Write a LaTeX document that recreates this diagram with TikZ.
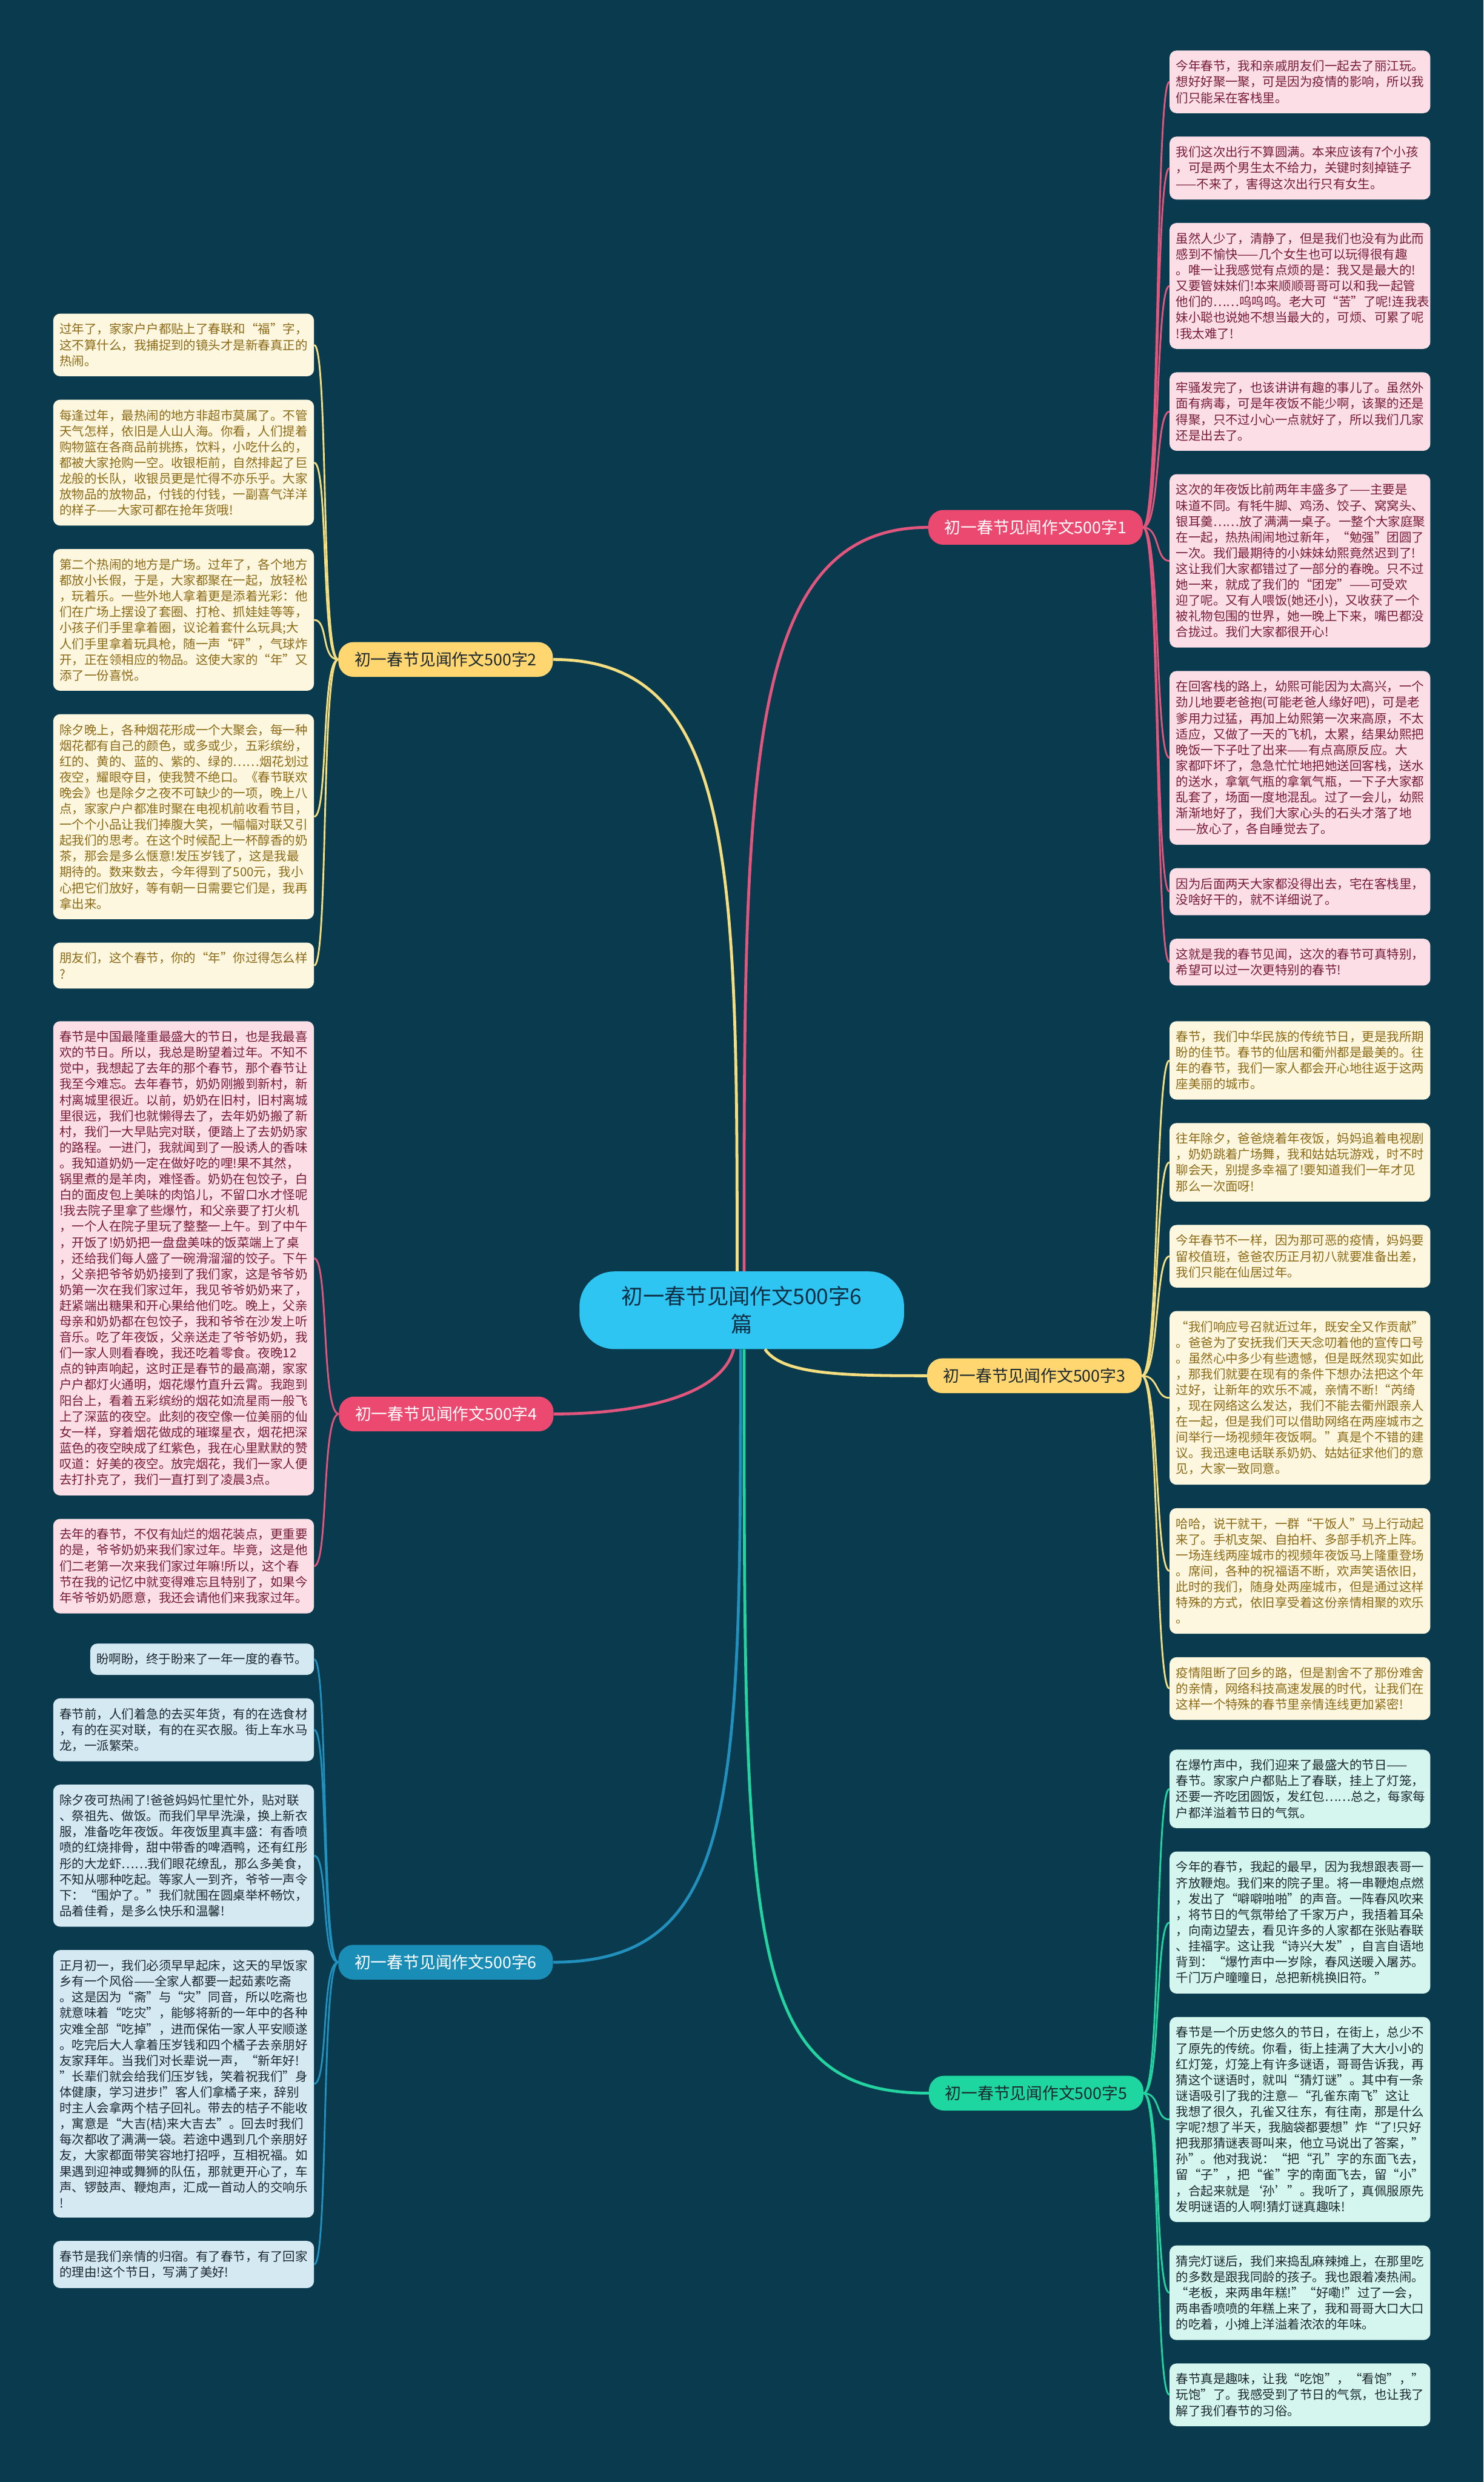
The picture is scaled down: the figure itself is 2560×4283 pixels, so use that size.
\documentclass[tikz,border=0pt]{standalone}
\usepackage{fontspec}
\setmainfont{Noto Sans CJK SC}
\usetikzlibrary{positioning}

\definecolor{bgnavy}{RGB}{9,58,77}
\definecolor{centerfill}{RGB}{46,197,243}
\definecolor{centertext}{RGB}{16,46,68}
\definecolor{pinkbranch}{RGB}{236,73,112}
\definecolor{pinkline}{RGB}{226,86,126}
\definecolor{pinkfill}{RGB}{252,222,230}
\definecolor{pinktext}{RGB}{120,28,58}
\definecolor{yellowbranch}{RGB}{255,214,112}
\definecolor{yellowline}{RGB}{245,222,128}
\definecolor{yellowfill}{RGB}{254,247,224}
\definecolor{yellowtext}{RGB}{140,106,22}
\definecolor{greenbranch}{RGB}{30,214,160}
\definecolor{greenline}{RGB}{35,212,160}
\definecolor{greenfill}{RGB}{212,246,238}
\definecolor{bluebranch}{RGB}{26,141,183}
\definecolor{blueline}{RGB}{33,144,189}
\definecolor{bluefill}{RGB}{213,233,242}
\definecolor{darktext}{RGB}{28,40,48}

\begin{document}
\begin{tikzpicture}[x=1pt,y=-1pt,node distance=40pt,
  leaf/.style={rounded corners=12pt,align=left,text width=428pt,inner xsep=11pt,inner ysep=16.8pt,
    font=\fontsize{21.4pt}{27.3pt}\selectfont},
  pinkleaf/.style={leaf,fill=pinkfill,text=pinktext},
  yellowleaf/.style={leaf,fill=yellowfill,text=yellowtext},
  greenleaf/.style={leaf,fill=greenfill,text=darktext},
  blueleaf/.style={leaf,fill=bluefill,text=darktext},
  branch/.style={rounded corners=26pt,minimum height=60pt,inner xsep=28pt,
    font=\fontsize{28pt}{34pt}\selectfont},
  trunk/.style={line width=5pt},
  twig/.style={line width=3pt}]
  \fill[bgnavy] (0,0) rectangle (2560,4283);
  \useasboundingbox (0,0) rectangle (2560,4283);

  \node[fill=centerfill,text=centertext,rounded corners=60pt,minimum width=560pt,minimum height=134pt,
    align=center,font=\fontsize{37pt}{48pt}\selectfont] (c) at (1280,2261) {初一春节见闻作文500字6\\篇};

  \node[branch,fill=pinkbranch,text=white] (b1) at (1787,910) {初一春节见闻作文500字1};
  \node[branch,fill=yellowbranch,text=darktext] (b2) at (769,1138) {初一春节见闻作文500字2};
  \node[branch,fill=yellowbranch,text=darktext] (b3) at (1785,2374) {初一春节见闻作文500字3};
  \node[branch,fill=pinkbranch,text=white] (b4) at (770,2440) {初一春节见闻作文500字4};
  \node[branch,fill=greenbranch,text=darktext] (b5) at (1788,3612) {初一春节见闻作文500字5};
  \node[branch,fill=bluebranch,text=white] (b6) at (769,3386) {初一春节见闻作文500字6};

  % essay 1
  \node[pinkleaf,anchor=north west] (r1a) at (2018,87) {今年春节，我和亲戚朋友们一起去了丽江玩。\\想好好聚一聚，可是因为疫情的影响，所以我\\们只能呆在客栈里。};
  \node[pinkleaf,below=of r1a] (r1b) {我们这次出行不算圆满。本来应该有7个小孩\\，可是两个男生太不给力，关键时刻掉链子\\——不来了，害得这次出行只有女生。};
  \node[pinkleaf,below=of r1b] (r1c) {虽然人少了，清静了，但是我们也没有为此而\\感到不愉快——几个女生也可以玩得很有趣\\。唯一让我感觉有点烦的是：我又是最大的!\\又要管妹妹们!本来顺顺哥哥可以和我一起管\\他们的……呜呜呜。老大可“苦”了呢!连我表\\妹小聪也说她不想当最大的，可烦、可累了呢\\!我太难了!};
  \node[pinkleaf,below=of r1c] (r1d) {牢骚发完了，也该讲讲有趣的事儿了。虽然外\\面有病毒，可是年夜饭不能少啊，该聚的还是\\得聚，只不过小心一点就好了，所以我们几家\\还是出去了。};
  \node[pinkleaf,below=of r1d] (r1e) {这次的年夜饭比前两年丰盛多了——主要是\\味道不同。有牦牛脚、鸡汤、饺子、窝窝头、\\银耳羹……放了满满一桌子。一整个大家庭聚\\在一起，热热闹闹地过新年，“勉强”团圆了\\一次。我们最期待的小妹妹幼熙竟然迟到了!\\这让我们大家都错过了一部分的春晚。只不过\\她一来，就成了我们的“团宠”——可受欢\\迎了呢。又有人喂饭(她还小)，又收获了一个\\被礼物包围的世界，她一晚上下来，嘴巴都没\\合拢过。我们大家都很开心!};
  \node[pinkleaf,below=of r1e] (r1f) {在回客栈的路上，幼熙可能因为太高兴，一个\\劲儿地要老爸抱(可能老爸人缘好吧)，可是老\\爹用力过猛，再加上幼熙第一次来高原，不太\\适应，又做了一天的飞机，太累，结果幼熙把\\晚饭一下子吐了出来——有点高原反应。大\\家都吓坏了，急急忙忙地把她送回客栈，送水\\的送水，拿氧气瓶的拿氧气瓶，一下子大家都\\乱套了，场面一度地混乱。过了一会儿，幼熙\\渐渐地好了，我们大家心头的石头才落了地\\——放心了，各自睡觉去了。};
  \node[pinkleaf,below=of r1f] (r1g) {因为后面两天大家都没得出去，宅在客栈里，\\没啥好干的，就不详细说了。};
  \node[pinkleaf,below=of r1g] (r1h) {这就是我的春节见闻，这次的春节可真特别，\\希望可以过一次更特别的春节!};

  % essay 3
  \node[yellowleaf,anchor=north west] (r3a) at (2018,1762) {春节，我们中华民族的传统节日，更是我所期\\盼的佳节。春节的仙居和衢州都是最美的。往\\年的春节，我们一家人都会开心地往返于这两\\座美丽的城市。};
  \node[yellowleaf,below=of r3a] (r3b) {往年除夕，爸爸烧着年夜饭，妈妈追着电视剧\\，奶奶跳着广场舞，我和姑姑玩游戏，时不时\\聊会天，别提多幸福了!要知道我们一年才见\\那么一次面呀!};
  \node[yellowleaf,below=of r3b] (r3c) {今年春节不一样，因为那可恶的疫情，妈妈要\\留校值班，爸爸农历正月初八就要准备出差，\\我们只能在仙居过年。};
  \node[yellowleaf,below=of r3c] (r3d) {“我们响应号召就近过年，既安全又作贡献”\\。爸爸为了安抚我们天天念叨着他的宣传口号\\。虽然心中多少有些遗憾，但是既然现实如此\\，那我们就要在现有的条件下想办法把这个年\\过好，让新年的欢乐不减，亲情不断!“芮绮\\，现在网络这么发达，我们不能去衢州跟亲人\\在一起，但是我们可以借助网络在两座城市之\\间举行一场视频年夜饭啊。”真是个不错的建\\议。我迅速电话联系奶奶、姑姑征求他们的意\\见，大家一致同意。};
  \node[yellowleaf,below=of r3d] (r3e) {哈哈，说干就干，一群“干饭人”马上行动起\\来了。手机支架、自拍杆、多部手机齐上阵。\\一场连线两座城市的视频年夜饭马上隆重登场\\。席间，各种的祝福语不断，欢声笑语依旧，\\此时的我们，随身处两座城市，但是通过这样\\特殊的方式，依旧享受着这份亲情相聚的欢乐\\。};
  \node[yellowleaf,below=of r3e] (r3f) {疫情阻断了回乡的路，但是割舍不了那份难舍\\的亲情，网络科技高速发展的时代，让我们在\\这样一个特殊的春节里亲情连线更加紧密!};

  % essay 5
  \node[greenleaf,anchor=north west] (r5a) at (2018,3019) {在爆竹声中，我们迎来了最盛大的节日——\\春节。家家户户都贴上了春联，挂上了灯笼，\\还要一齐吃团圆饭，发红包……总之，每家每\\户都洋溢着节日的气氛。};
  \node[greenleaf,below=of r5a] (r5b) {今年的春节，我起的最早，因为我想跟表哥一\\齐放鞭炮。我们来的院子里。将一串鞭炮点燃\\，发出了“噼噼啪啪”的声音。一阵春风吹来\\，将节日的气氛带给了千家万户，我捂着耳朵\\，向南边望去，看见许多的人家都在张贴春联\\、挂福字。这让我“诗兴大发”，自言自语地\\背到：“爆竹声中一岁除，春风送暖入屠苏。\\千门万户曈曈日，总把新桃换旧符。”};
  \node[greenleaf,below=of r5b] (r5c) {春节是一个历史悠久的节日，在街上，总少不\\了原先的传统。你看，街上挂满了大大小小的\\红灯笼，灯笼上有许多谜语，哥哥告诉我，再\\猜这个谜语时，就叫“猜灯谜”。其中有一条\\谜语吸引了我的注意—“孔雀东南飞”这让\\我想了很久，孔雀又往东，有往南，那是什么\\字呢?想了半天，我脑袋都要想”炸“了!只好\\把我那猜谜表哥叫来，他立马说出了答案，”\\孙”。他对我说：“把“孔”字的东面飞去，\\留“子”，把“雀”字的南面飞去，留“小”\\，合起来就是‘孙’”。我听了，真佩服原先\\发明谜语的人啊!猜灯谜真趣味!};
  \node[greenleaf,below=of r5c] (r5d) {猜完灯谜后，我们来捣乱麻辣摊上，在那里吃\\的多数是跟我同龄的孩子。我也跟着凑热闹。\\“老板，来两串年糕!”“好嘞!”过了一会，\\两串香喷喷的年糕上来了，我和哥哥大口大口\\的吃着，小摊上洋溢着浓浓的年味。};
  \node[greenleaf,below=of r5d] (r5e) {春节真是趣味，让我“吃饱”，“看饱”，”\\玩饱”了。我感受到了节日的气氛，也让我了\\解了我们春节的习俗。};

  % essay 2
  \node[yellowleaf,anchor=north east] (l2a) at (542,541) {过年了，家家户户都贴上了春联和“福”字，\\这不算什么，我捕捉到的镜头才是新春真正的\\热闹。};
  \node[yellowleaf,below=of l2a] (l2b) {每逢过年，最热闹的地方非超市莫属了。不管\\天气怎样，依旧是人山人海。你看，人们提着\\购物篮在各商品前挑拣，饮料，小吃什么的，\\都被大家抢购一空。收银柜前，自然排起了巨\\龙般的长队，收银员更是忙得不亦乐乎。大家\\放物品的放物品，付钱的付钱，一副喜气洋洋\\的样子——大家可都在抢年货哦!};
  \node[yellowleaf,below=of l2b] (l2c) {第二个热闹的地方是广场。过年了，各个地方\\都放小长假，于是，大家都聚在一起，放轻松\\，玩着乐。一些外地人拿着更是添着光彩：他\\们在广场上摆设了套圈、打枪、抓娃娃等等，\\小孩子们手里拿着圈，议论着套什么玩具;大\\人们手里拿着玩具枪，随一声“砰”，气球炸\\开，正在领相应的物品。这使大家的“年”又\\添了一份喜悦。};
  \node[yellowleaf,below=of l2c] (l2d) {除夕晚上，各种烟花形成一个大聚会，每一种\\烟花都有自己的颜色，或多或少，五彩缤纷，\\红的、黄的、蓝的、紫的、绿的……烟花划过\\夜空，耀眼夺目，使我赞不绝口。《春节联欢\\晚会》也是除夕之夜不可缺少的一项，晚上八\\点，家家户户都准时聚在电视机前收看节目，\\一个个小品让我们捧腹大笑，一幅幅对联又引\\起我们的思考。在这个时候配上一杯醇香的奶\\茶，那会是多么惬意!发压岁钱了，这是我最\\期待的。数来数去，今年得到了500元，我小\\心把它们放好，等有朝一日需要它们是，我再\\拿出来。};
  \node[yellowleaf,below=of l2d] (l2e) {朋友们，这个春节，你的“年”你过得怎么样\\?};

  % essay 4
  \node[pinkleaf,anchor=north east] (l4a) at (542,1762) {春节是中国最隆重最盛大的节日，也是我最喜\\欢的节日。所以，我总是盼望着过年。不知不\\觉中，我想起了去年的那个春节，那个春节让\\我至今难忘。去年春节，奶奶刚搬到新村，新\\村离城里很近。以前，奶奶在旧村，旧村离城\\里很远，我们也就懒得去了，去年奶奶搬了新\\村，我们一大早贴完对联，便踏上了去奶奶家\\的路程。一进门，我就闻到了一股诱人的香味\\。我知道奶奶一定在做好吃的哩!果不其然，\\锅里煮的是羊肉，难怪香。奶奶在包饺子，白\\白的面皮包上美味的肉馅儿，不留口水才怪呢\\!我去院子里拿了些爆竹，和父亲要了打火机\\，一个人在院子里玩了整整一上午。到了中午\\，开饭了!奶奶把一盘盘美味的饭菜端上了桌\\，还给我们每人盛了一碗滑溜溜的饺子。下午\\，父亲把爷爷奶奶接到了我们家，这是爷爷奶\\奶第一次在我们家过年，我见爷爷奶奶来了，\\赶紧端出糖果和开心果给他们吃。晚上，父亲\\母亲和奶奶都在包饺子，我和爷爷在沙发上听\\音乐。吃了年夜饭，父亲送走了爷爷奶奶，我\\们一家人则看春晚，我还吃着零食。夜晚12\\点的钟声响起，这时正是春节的最高潮，家家\\户户都灯火通明，烟花爆竹直升云霄。我跑到\\阳台上，看着五彩缤纷的烟花如流星雨一般飞\\上了深蓝的夜空。此刻的夜空像一位美丽的仙\\女一样，穿着烟花做成的璀璨星衣，烟花把深\\蓝色的夜空映成了红紫色，我在心里默默的赞\\叹道：好美的夜空。放完烟花，我们一家人便\\去打扑克了，我们一直打到了凌晨3点。};
  \node[pinkleaf,below=of l4a] (l4b) {去年的春节，不仅有灿烂的烟花装点，更重要\\的是，爷爷奶奶来我们家过年。毕竟，这是他\\们二老第一次来我们家过年嘛!所以，这个春\\节在我的记忆中就变得难忘且特别了，如果今\\年爷爷奶奶愿意，我还会请他们来我家过年。};

  % essay 6
  \node[blueleaf,text width=364pt,anchor=north east] (l6a) at (542,2836) {盼啊盼，终于盼来了一年一度的春节。};
  \node[blueleaf,below=40pt of l6a.south east,anchor=north east] (l6b) {春节前，人们着急的去买年货，有的在选食材\\，有的在买对联，有的在买衣服。街上车水马\\龙，一派繁荣。};
  \node[blueleaf,below=of l6b] (l6c) {除夕夜可热闹了!爸爸妈妈忙里忙外，贴对联\\、祭祖先、做饭。而我们早早洗澡，换上新衣\\服，准备吃年夜饭。年夜饭里真丰盛：有香喷\\喷的红烧排骨，甜中带香的啤酒鸭，还有红彤\\彤的大龙虾……我们眼花缭乱，那么多美食，\\不知从哪种吃起。等家人一到齐，爷爷一声令\\下：“围炉了。”我们就围在圆桌举杯畅饮，\\品着佳肴，是多么快乐和温馨!};
  \node[blueleaf,below=of l6c] (l6d) {正月初一，我们必须早早起床，这天的早饭家\\乡有一个风俗——全家人都要一起茹素吃斋\\。这是因为“斋”与“灾”同音，所以吃斋也\\就意味着“吃灾”，能够将新的一年中的各种\\灾难全部“吃掉”，进而保佑一家人平安顺遂\\。吃完后大人拿着压岁钱和四个橘子去亲朋好\\友家拜年。当我们对长辈说一声，“新年好!\\”长辈们就会给我们压岁钱，笑着祝我们"身\\体健康，学习进步!”客人们拿橘子来，辞别\\时主人会拿两个桔子回礼。带去的桔子不能收\\，寓意是“大吉(桔)来大吉去”。回去时我们\\每次都收了满满一袋。若途中遇到几个亲朋好\\友，大家都面带笑容地打招呼，互相祝福。如\\果遇到迎神或舞狮的队伍，那就更开心了，车\\声、锣鼓声、鞭炮声，汇成一首动人的交响乐\\!};
  \node[blueleaf,below=of l6d] (l6e) {春节是我们亲情的归宿。有了春节，有了回家\\的理由!这个节日，写满了美好!};

  % center to branches
  \draw[trunk,pinkline] ([xshift=4pt]c.north) .. controls +(0,-844) and +(-322,0) .. (b1.west);
  \draw[trunk,yellowline] ([xshift=-8pt]c.north) .. controls +(0,-694) and +(316,0) .. (b2.east);
  \draw[trunk,yellowline] ([xshift=40pt]c.south) .. controls +(30,44) and +(-144,0) .. (b3.west);
  \draw[trunk,pinkline] ([xshift=-14pt]c.south) .. controls +(-21,82) and +(143,0) .. (b4.east);
  \draw[trunk,greenline] ([xshift=4pt]c.south) .. controls +(0,1022) and +(-320,0) .. (b5.west);
  \draw[trunk,blueline] ([xshift=-2pt]c.south) .. controls +(0,772) and +(322,0) .. (b6.east);

  % branches to leaves
  \foreach \n in {r1a,r1b,r1c,r1d,r1e,r1f,r1g,r1h}
    \draw[twig,pinkline] (b1.east) .. controls +(30,0) and +(-25,0) .. (\n.west);
  \foreach \n in {r3a,r3b,r3c,r3d,r3e,r3f}
    \draw[twig,yellowline] (b3.east) .. controls +(30,0) and +(-25,0) .. (\n.west);
  \foreach \n in {r5a,r5b,r5c,r5d,r5e}
    \draw[twig,greenline] (b5.east) .. controls +(30,0) and +(-25,0) .. (\n.west);
  \foreach \n in {l2a,l2b,l2c,l2d,l2e}
    \draw[twig,yellowline] (b2.west) .. controls +(-30,0) and +(25,0) .. (\n.east);
  \foreach \n in {l4a,l4b}
    \draw[twig,pinkline] (b4.west) .. controls +(-30,0) and +(25,0) .. (\n.east);
  \foreach \n in {l6a,l6b,l6c,l6d,l6e}
    \draw[twig,blueline] (b6.west) .. controls +(-30,0) and +(25,0) .. (\n.east);
\end{tikzpicture}
\end{document}
